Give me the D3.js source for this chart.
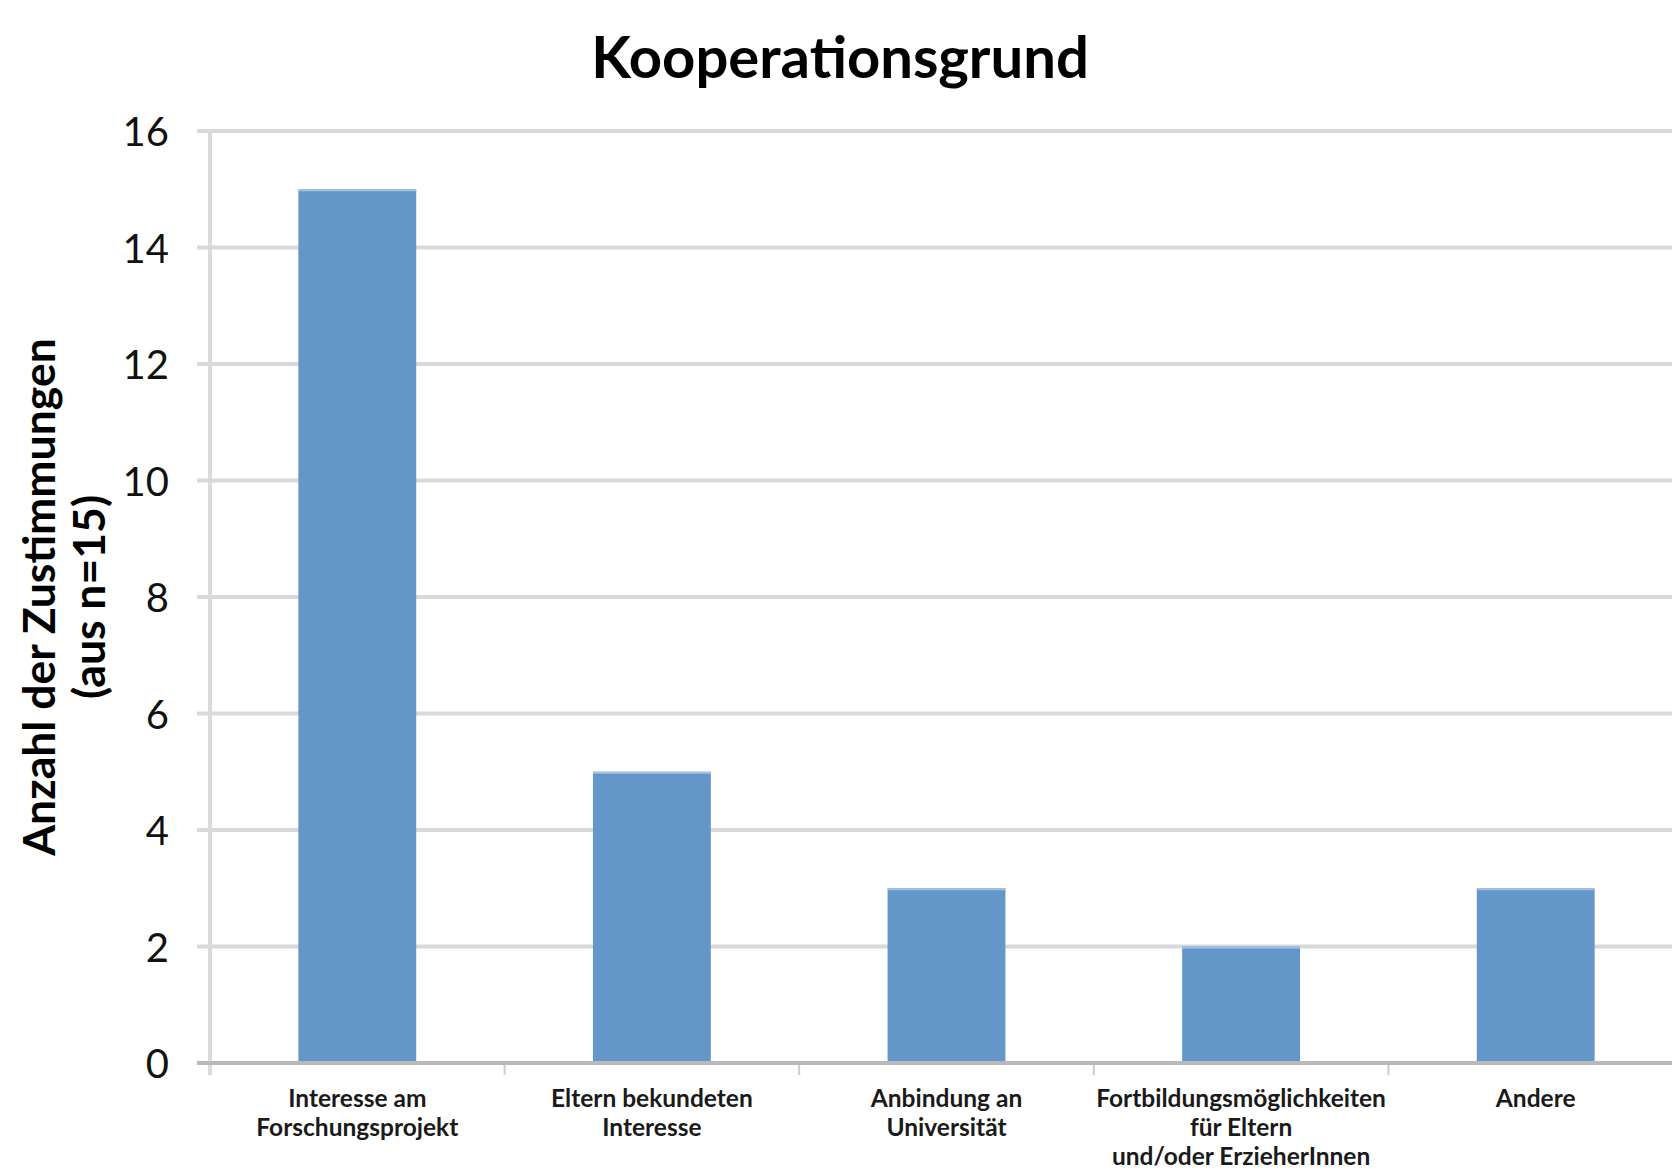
<!DOCTYPE html>
<html>
<head>
<meta charset="utf-8">
<script src="https://cdn.jsdelivr.net/npm/d3@7"></script>
<style>
  html, body { margin: 0; padding: 0; background: #fff; }
  svg { display: block; font-family: Lato, "Open Sans", sans-serif; }
</style>
</head>
<body>
<svg id="chart"></svg>
<script>
const categories = [
  ['Interesse am', 'Forschungsprojekt'],
  ['Eltern bekundeten', 'Interesse'],
  ['Anbindung an', 'Universität'],
  ['Fortbildungsmöglichkeiten', 'für Eltern', 'und/oder ErzieherInnen'],
  ['Andere']
];
const values = [15, 5, 3, 2, 3];
const yTicks = [0, 2, 4, 6, 8, 10, 12, 14, 16];
const titleText = 'Kooperationsgrund';
const yTitle = ['Anzahl der Zustimmungen', '(aus n=15)'];

function render() {
  const W = 1672, H = 1170;
  const svg = d3.select('#chart').attr('width', W).attr('height', H);

  const left = 210, right = 1683, top = 131, bottom = 1063;

  const x = d3.scaleBand()
    .domain(categories.map((d, i) => i))
    .range([left, right])
    .paddingInner(0.6)
    .paddingOuter(0.3);

  const y = d3.scaleLinear().domain([0, 16]).range([bottom, top]);

  // gridlines (and the little tick stubs left of the axis)
  svg.append('g').selectAll('line')
    .data(yTicks.filter(t => t > 0))
    .enter().append('line')
    .attr('x1', 197).attr('x2', W)
    .attr('y1', d => y(d)).attr('y2', d => y(d))
    .attr('stroke', '#d9d9d9')
    .attr('stroke-width', 4);

  // y axis line
  svg.append('line')
    .attr('x1', left).attr('x2', left)
    .attr('y1', top - 2).attr('y2', bottom + 12)
    .attr('stroke', '#dadada')
    .attr('stroke-width', 4);

  // x tick marks between categories
  const step = x.step();
  const bounds = d3.range(categories.length + 1).map(i => left + i * step);
  svg.append('g').selectAll('line')
    .data(bounds.slice(1))
    .enter().append('line')
    .attr('x1', d => d).attr('x2', d => d)
    .attr('y1', bottom).attr('y2', bottom + 12)
    .attr('stroke', '#cccccc')
    .attr('stroke-width', 2);

  // bars
  svg.append('g').selectAll('rect')
    .data(values)
    .enter().append('rect')
    .attr('x', (d, i) => x(i))
    .attr('y', d => y(d))
    .attr('width', x.bandwidth())
    .attr('height', d => bottom - y(d))
    .attr('fill', '#6396c9');

  svg.append('g').selectAll('line')
    .data(values)
    .enter().append('line')
    .attr('x1', (d, i) => x(i)).attr('x2', (d, i) => x(i) + x.bandwidth())
    .attr('y1', d => y(d) + 1).attr('y2', d => y(d) + 1)
    .attr('stroke', '#a4c1e2')
    .attr('stroke-width', 2);

  // baseline
  svg.append('line')
    .attr('x1', 197).attr('x2', W)
    .attr('y1', bottom).attr('y2', bottom)
    .attr('stroke', '#b9b9b9')
    .attr('stroke-width', 4);

  // y tick labels
  svg.append('g').selectAll('text')
    .data(yTicks)
    .enter().append('text')
    .attr('x', 169)
    .attr('y', d => y(d) + 15)
    .attr('text-anchor', 'end')
    .attr('font-size', 40)
    .attr('fill', '#111')
    .text(d => d);

  // category labels
  const lab = svg.append('g').selectAll('text')
    .data(categories)
    .enter().append('text')
    .attr('text-anchor', 'middle')
    .attr('font-size', 24.5)
    .attr('font-weight', 'bold')
    .attr('fill', '#1a1a1a');
  lab.each(function(lines, i) {
    d3.select(this).selectAll('tspan')
      .data(lines)
      .enter().append('tspan')
      .attr('x', x(i) + x.bandwidth() / 2)
      .attr('y', (d, j) => 1107 + j * 29)
      .text(d => d);
  });

  // title
  svg.append('text')
    .attr('x', 840).attr('y', 78)
    .attr('text-anchor', 'middle')
    .attr('font-size', 58)
    .attr('font-weight', 'bold')
    .attr('fill', '#000')
    .text(titleText);

  // y axis title
  svg.append('g').selectAll('text')
    .data(yTitle)
    .enter().append('text')
    .attr('transform', (d, i) => `translate(${55 + i * 50},597) rotate(-90)`)
    .attr('text-anchor', 'middle')
    .attr('font-size', 44.5)
    .attr('font-weight', 'bold')
    .attr('fill', '#000')
    .text(d => d);
}

render();
</script>
</body>
</html>
